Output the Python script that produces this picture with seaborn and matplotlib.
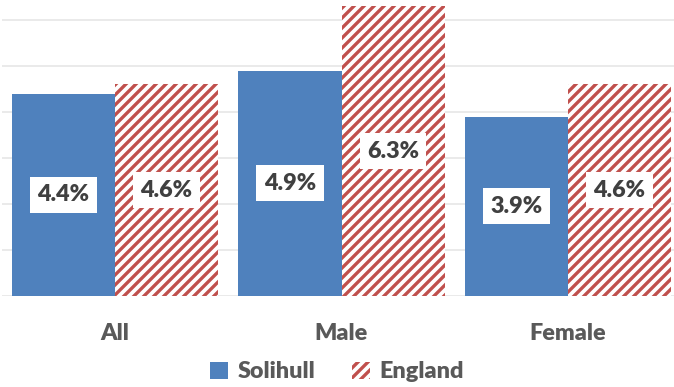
import matplotlib
matplotlib.use("Agg")
import matplotlib.pyplot as plt
import seaborn as sns
import pandas as pd
from matplotlib.patches import Patch

categories = ["All", "Male", "Female"]
series = ["Solihull", "England"]
solihull = [4.4, 4.9, 3.9]
england = [4.6, 6.3, 4.6]

BLUE = "#4F81BD"
RED = "#C0504D"

sns.set_theme(style="white")
plt.rcParams["font.family"] = ["Lato", "DejaVu Sans"]
plt.rcParams["hatch.linewidth"] = 2.0

DPI = 120
fig = plt.figure(figsize=(674 / DPI, 387 / DPI), dpi=DPI)
W, H = 674, 387
unit = 226.5
left_px = 115 - 0.5 * unit
ax = fig.add_axes([left_px / W, 91 / H, 3 * unit / W, 296 / H])

df = pd.DataFrame({
    "category": categories * 2,
    "series": [series[0]] * 3 + [series[1]] * 3,
    "value": solihull + england,
})

sns.barplot(data=df, x="category", y="value", hue="series", order=categories,
            hue_order=series, palette=[BLUE, "white"], width=0.91, gap=0,
            saturation=1, legend=False, ax=ax)

patches = [p for p in ax.patches]
for p in patches:
    p.set_linewidth(0)
for p in patches[3:]:
    p.set_facecolor("white")
    p.set_edgecolor(RED)
    p.set_hatch("////")
    p.set_linewidth(0)

ax.set_xlim(-0.5, 2.5)
ax.set_ylim(0, 296 / 46)
ax.set_yticks([0, 1, 2, 3, 4, 5, 6])
ax.yaxis.grid(True, color="#E6E6E6", linewidth=1.0)
ax.set_axisbelow(True)
ax.set_yticklabels([])
ax.tick_params(axis="y", length=0)
ax.tick_params(axis="x", length=0, pad=16)
for s in ax.spines.values():
    s.set_visible(False)
ax.set_xlabel("")
ax.set_ylabel("")
ax.set_xticks(range(3))
ax.set_xticklabels(categories, fontsize=14, fontweight="heavy", color="#595959")

for p in patches:
    h = p.get_height()
    ax.text(p.get_x() + p.get_width() / 2, h / 2, f"{h:.1f}%",
            ha="center", va="center", fontsize=14, fontweight="heavy",
            color="#404040",
            bbox=dict(boxstyle="square,pad=0.32", facecolor="white", edgecolor="none"))

handles = [Patch(facecolor=BLUE, edgecolor="none", label="Solihull"),
           Patch(facecolor="white", edgecolor=RED, hatch="////", linewidth=0, label="England")]
leg = fig.legend(handles=handles, loc="center", bbox_to_anchor=(0.5, 1 - 372 / H),
                 ncol=2, frameon=False, handlelength=0.75, handleheight=0.75,
                 handletextpad=0.4, columnspacing=1.6,
                 prop={"size": 14, "weight": "heavy", "family": ["Lato", "DejaVu Sans"]})
for t in leg.get_texts():
    t.set_color("#595959")

fig.savefig("out.png", dpi=DPI)
